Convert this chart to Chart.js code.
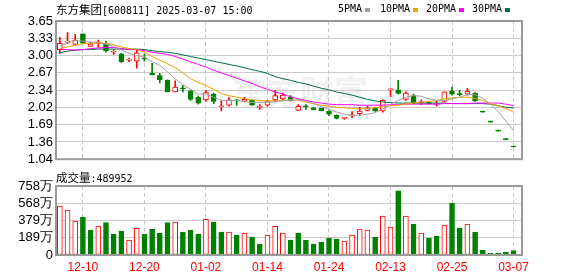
<!DOCTYPE html>
<html>
<head>
<meta charset="utf-8">
<script src="https://cdn.jsdelivr.net/npm/chart.js@4.4.1/dist/chart.umd.min.js"></script>
<style>
body { margin: 0; background: #fff; width: 578px; height: 276px; overflow: hidden; position: relative; }
canvas { position: absolute; left: 0; }
#kline { top: 0; }
#vol { top: 170px; }
.t { position: absolute; font-family: "DejaVu Sans Mono", monospace; font-size: 10px; line-height: 12px; color: #000; white-space: nowrap; }
.cjk { font-family: "Noto Sans CJK SC"; font-size: 11.5px; }
.sq { position: absolute; width: 5px; height: 4px; top: 8px; }
</style>
</head>
<body>
<canvas id="kline" width="578" height="170"></canvas>
<canvas id="vol" width="578" height="106"></canvas>
<div class="t" style="left:56px;top:3px"><span class="cjk">东方集团</span>[600811] 2025-03-07 15:00</div>
<div class="t" style="left:338px;top:3px">5PMA</div><div class="sq" style="left:365px;background:#a0a0a0"></div>
<div class="t" style="left:380px;top:3px">10PMA</div><div class="sq" style="left:413px;background:#f0a000"></div>
<div class="t" style="left:426px;top:3px">20PMA</div><div class="sq" style="left:459px;background:#ff00ff"></div>
<div class="t" style="left:472px;top:3px">30PMA</div><div class="sq" style="left:505px;background:#00703c"></div>
<div class="t" style="left:56px;top:171px"><span class="cjk">成交量</span>:489952</div>
<script>
// 交易日 2024-12-05 ~ 2025-03-07
const dates = ['12-05','12-06','12-09','12-10','12-11','12-12','12-13','12-16','12-17','12-18',
  '12-19','12-20','12-23','12-24','12-25','12-26','12-27','12-30','12-31','01-02',
  '01-03','01-06','01-07','01-08','01-09','01-10','01-13','01-14','01-15','01-16',
  '01-17','01-20','01-21','01-22','01-23','01-24','01-27','02-05','02-06','02-07',
  '02-10','02-11','02-12','02-13','02-14','02-17','02-18','02-19','02-20','02-21',
  '02-24','02-25','02-26','02-27','02-28','03-03','03-04','03-05','03-06','03-07'];
const tickDates = ['12-10','12-20','01-02','01-14','01-24','02-13','02-25','03-07'];

const open  = [3.11,3.25,3.21,3.41,3.17,3.22,3.21,3.06,3.03,2.91, 2.89,2.94,2.66,2.62,2.53,2.31,2.39,2.33,2.21,2.16,
               2.27,2.03,2.06,2.15,2.13,2.15,2.02,2.06,2.16,2.18, 2.21,1.96,2.04,2.01,2.00,1.95,1.87,1.81,1.86,1.90,
               1.96,2.01,1.95,2.35,2.35,2.17,2.24,2.11,2.11,2.075, 2.13,2.32,2.28,2.27,2.29,1.93,1.74,1.57,1.41,1.27];
const high  = [3.34,3.43,3.40,3.41,3.25,3.29,3.27,3.11,3.04,2.95, 3.11,3.03,2.85,2.66,2.54,2.52,2.43,2.34,2.23,2.34,
               2.29,2.14,2.21,2.17,2.21,2.16,2.07,2.15,2.34,2.29, 2.24,2.07,2.07,2.02,2.00,1.96,1.88,1.83,1.94,2.02,
               2.04,2.02,2.16,2.37,2.53,2.31,2.27,2.16,2.12,2.14, 2.31,2.40,2.34,2.38,2.30,1.93,1.74,1.57,1.41,1.27];
const low   = [3.04,3.22,3.21,3.23,3.17,3.15,3.06,3.02,2.87,2.88, 2.76,2.89,2.63,2.48,2.31,2.31,2.31,2.15,2.08,2.13,
               2.09,1.95,2.04,2.06,2.12,2.06,1.98,2.04,2.12,2.16, 2.14,1.96,1.98,1.97,1.95,1.86,1.80,1.79,1.83,1.87,
               1.95,1.94,1.93,2.22,2.27,2.15,2.09,2.07,2.08,2.04, 2.13,2.25,2.24,2.25,2.13,1.93,1.74,1.57,1.41,1.27];
const close = [3.23,3.27,3.29,3.23,3.22,3.25,3.09,3.07,2.88,2.92, 3.05,2.93,2.63,2.54,2.31,2.40,2.37,2.17,2.10,2.30,
               2.13,2.04,2.16,2.14,2.17,2.06,2.03,2.14,2.24,2.25, 2.15,2.04,2.03,1.97,1.95,1.89,1.81,1.82,1.88,1.95,
               2.01,1.95,2.15,2.36,2.28,2.29,2.11,2.12,2.09,2.08, 2.31,2.27,2.26,2.32,2.14,1.93,1.74,1.57,1.41,1.27];

const ma5  = [3.18,3.23,3.28,3.27,3.25,3.25,3.21,3.17,3.10,3.04, 3.00,2.97,2.88,2.81,2.69,2.56,2.45,2.36,2.27,2.27,
              2.21,2.15,2.15,2.15,2.13,2.11,2.11,2.11,2.13,2.14, 2.16,2.16,2.14,2.09,2.03,1.98,1.93,1.89,1.87,1.87,
              1.89,1.92,1.99,2.08,2.15,2.21,2.24,2.23,2.18,2.15, 2.15,2.18,2.21,2.26,2.26,2.19,2.08,1.94,1.76,1.58];
const ma10 = [3.13,3.16,3.19,3.22,3.23,3.23,3.23,3.20,3.16,3.13, 3.11,3.06,2.98,2.91,2.84,2.77,2.67,2.56,2.49,2.43,
              2.36,2.28,2.24,2.21,2.18,2.16,2.15,2.14,2.14,2.15, 2.16,2.15,2.12,2.09,2.06,2.04,2.02,2.01,2.00,1.99,
              2.00,2.01,2.03,2.05,2.06,2.08,2.10,2.12,2.13,2.15, 2.18,2.20,2.21,2.21,2.19,2.15,2.09,2.05,2.00,1.93];
const ma20 = [3.12,3.11,3.10,3.11,3.13,3.14,3.15,3.15,3.13,3.11, 3.11,3.09,3.06,3.04,3.02,2.98,2.93,2.88,2.83,2.78,
              2.72,2.67,2.62,2.57,2.52,2.47,2.41,2.36,2.31,2.27, 2.22,2.18,2.15,2.12,2.10,2.08,2.07,2.07,2.07,2.06,
              2.06,2.06,2.06,2.07,2.07,2.08,2.08,2.08,2.08,2.08, 2.09,2.09,2.09,2.09,2.10,2.10,2.10,2.10,2.08,2.05];
const ma30 = [3.05,3.08,3.10,3.11,3.11,3.12,3.12,3.12,3.12,3.12, 3.12,3.11,3.09,3.07,3.06,3.04,3.01,2.98,2.95,2.92,
              2.89,2.86,2.83,2.80,2.77,2.73,2.70,2.66,2.60,2.56, 2.53,2.49,2.46,2.42,2.38,2.35,2.31,2.28,2.25,2.21,
              2.17,2.14,2.12,2.11,2.10,2.10,2.10,2.10,2.10,2.10, 2.10,2.09,2.09,2.09,2.09,2.09,2.08,2.05,2.02,2.01];

// 成交量（万）
const volume = [538,494,373,417,275,319,355,231,264,165, 293,231,286,242,355,362,253,275,231,392,
                362,253,253,220,242,198,121,220,315,242, 165,242,165,121,143,187,176,154,220,286,
                275,198,428,308,706,428,341,242,187,209, 330,571,297,341,253,55,22,22,33,49];

const priceTicks = ['1.04','1.36','1.69','2.02','2.34','2.67','3.00','3.33','3.65'];
const volTicks = ['0','189万','379万','568万','758万'];
const priceMin = 1.04, priceMax = 3.65, volMax = 758;

const RED = '#ff0000', GREEN = '#008000';
// 平盘（开=收）时按与昨收比较定颜色
const up = close.map((c, i) => c > open[i] || (c === open[i] && (i === 0 || c >= close[i - 1])));
const volUp = close.map((c, i) => i === 0 ? up[0] : c >= close[i - 1]);
const tickPos = tickDates.map(d => dates.indexOf(d));
const axisFont = { family: 'Liberation Sans', size: 13 };

const xAxis = showLabels => ({
    type: 'linear',
    min: -0.5,
    max: 60.1,
    offset: false,
    afterBuildTicks: s => { s.ticks = tickPos.map(v => ({ value: v })); },
    afterFit: s => { s.height = showLabels ? 21 : 0; },
    ticks: {
        display: showLabels,
        autoSkip: false,
        maxRotation: 0,
        padding: 5,
        color: RED,
        font: { family: 'Liberation Sans', size: 12 },
        callback: v => dates[v]
    },
    grid: { color: '#c8c8c8', drawTicks: false, offset: false },
    border: { display: false, dash: [4, 3] }
});

const yAxis = (min, max, labels) => ({
    min: min,
    max: max,
    afterBuildTicks: s => {
        s.ticks = labels.map((t, i) => ({ value: min + i * (max - min) / (labels.length - 1) }));
    },
    afterFit: s => { s.width = 56; },
    ticks: { autoSkip: false, padding: 3, color: '#000', font: axisFont, callback: (v, i) => labels[i] },
    grid: { color: '#cccccc', drawTicks: false },
    border: { display: false }
});

const frame = {
    id: 'frame',
    afterDraw(chart) {
        const a = chart.chartArea, ctx = chart.ctx;
        ctx.save();
        ctx.strokeStyle = '#9a9a9a';
        ctx.lineWidth = 2;
        ctx.strokeRect(a.left, a.top, a.right - a.left, a.bottom - a.top);
        ctx.restore();
    }
};

const watermark = {
    id: 'watermark',
    beforeDatasetsDraw(chart) {
        const ctx = chart.ctx;
        ctx.save();
        ctx.fillStyle = 'rgba(150,150,150,0.13)';
        ctx.font = 'bold 34px "Noto Sans CJK SC"';
        ctx.textAlign = 'center';
        ctx.textBaseline = 'middle';
        ctx.fillText('东方财富', 300, 92);
        ctx.restore();
    }
};

const maLine = (arr, color) => ({
    type: 'line',
    data: arr.map((v, i) => ({ x: i, y: v })),
    borderColor: color,
    borderWidth: 1,
    pointRadius: 0,
    tension: 0
});

new Chart(document.getElementById('kline').getContext('2d'), {
    type: 'bar',
    data: {
        datasets: [
            maLine(ma5, '#a0a0a0'),
            maLine(ma10, '#f0a000'),
            maLine(ma20, '#ff00ff'),
            maLine(ma30, '#00703c'),
            {
                // 实体
                data: open.map((o, i) => ({ x: i, y: [o, close[i]] })),
                backgroundColor: up.map(u => u ? '#fff' : GREEN),
                borderColor: up.map(u => u ? RED : GREEN),
                borderWidth: 1,
                borderSkipped: false,
                barThickness: 5,
                minBarLength: 1,
                grouped: false
            },
            {
                // 影线
                data: low.map((l, i) => ({ x: i, y: [l, high[i]] })),
                backgroundColor: up.map(u => u ? RED : GREEN),
                barThickness: 1,
                minBarLength: 1,
                grouped: false
            }
        ]
    },
    options: {
        responsive: false,
        animation: false,
        layout: { padding: { top: 21, right: 56, bottom: 5, left: 0 } },
        plugins: { legend: { display: false }, tooltip: { enabled: false } },
        scales: {
            x: xAxis(false),
            y: yAxis(priceMin, priceMax, priceTicks)
        }
    },
    plugins: [watermark, frame]
});

new Chart(document.getElementById('vol').getContext('2d'), {
    type: 'bar',
    data: {
        datasets: [{
            data: volume.map((v, i) => ({ x: i, y: v })),
            backgroundColor: volUp.map(u => u ? '#fff' : GREEN),
            borderColor: volUp.map(u => u ? RED : GREEN),
            borderWidth: 1,
            borderSkipped: false,
            barThickness: 5,
            grouped: false
        }]
    },
    options: {
        responsive: false,
        animation: false,
        layout: { padding: { top: 16, right: 56, bottom: 0, left: 0 } },
        plugins: { legend: { display: false }, tooltip: { enabled: false } },
        scales: {
            x: xAxis(true),
            y: yAxis(0, volMax, volTicks)
        }
    },
    plugins: [frame]
});
</script>
</body>
</html>
